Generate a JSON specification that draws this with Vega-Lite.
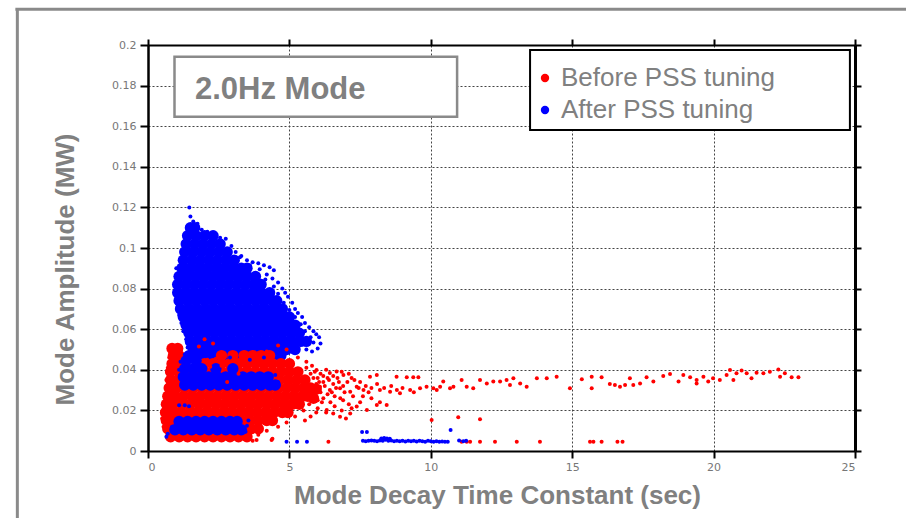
{
"$schema": "https://vega.github.io/schema/vega-lite/v6.json",
"width": 707, "height": 406,
"autosize": {"type": "none"},
"padding": {"left": 148, "top": 45, "right": 51, "bottom": 67},
"background": "white",
"config": {"view": {"stroke": null}, "font": "Liberation Sans"},
"resolve": {"axis": {"x": "independent", "y": "independent"}},
"datasets": {
"one": [{}],
"bcore": [
{"x":1.5,"y":0.110},{"x":1.65,"y":0.110},
{"x":1.4,"y":0.106},{"x":1.7,"y":0.106},{"x":2.0,"y":0.106},{"x":2.3,"y":0.106},
{"x":1.35,"y":0.102},{"x":1.65,"y":0.102},{"x":1.95,"y":0.102},{"x":2.25,"y":0.102},{"x":2.55,"y":0.102},
{"x":1.3,"y":0.098},{"x":1.6,"y":0.098},{"x":1.9,"y":0.098},{"x":2.2,"y":0.098},{"x":2.5,"y":0.098},{"x":2.8,"y":0.098},
{"x":1.25,"y":0.094},{"x":1.55,"y":0.094},{"x":1.85,"y":0.094},{"x":2.15,"y":0.094},{"x":2.45,"y":0.094},{"x":2.75,"y":0.094},{"x":3.05,"y":0.094},
{"x":1.2,"y":0.090},{"x":1.5,"y":0.090},{"x":1.8,"y":0.090},{"x":2.1,"y":0.090},{"x":2.4,"y":0.090},{"x":2.7,"y":0.090},{"x":3.0,"y":0.090},{"x":3.3,"y":0.090},{"x":3.5,"y":0.090},
{"x":1.1,"y":0.086},{"x":1.4,"y":0.086},{"x":1.7,"y":0.086},{"x":2.0,"y":0.086},{"x":2.3,"y":0.086},{"x":2.6,"y":0.086},{"x":2.9,"y":0.086},{"x":3.2,"y":0.086},{"x":3.5,"y":0.086},{"x":3.8,"y":0.086},
{"x":1.05,"y":0.082},{"x":1.35,"y":0.082},{"x":1.65,"y":0.082},{"x":1.95,"y":0.082},{"x":2.25,"y":0.082},{"x":2.55,"y":0.082},{"x":2.85,"y":0.082},{"x":3.15,"y":0.082},{"x":3.45,"y":0.082},{"x":3.75,"y":0.082},{"x":4.0,"y":0.082},
{"x":1.05,"y":0.078},{"x":1.3,"y":0.078},{"x":1.6,"y":0.078},{"x":1.9,"y":0.078},{"x":2.2,"y":0.078},{"x":2.5,"y":0.078},{"x":2.8,"y":0.078},{"x":3.1,"y":0.078},{"x":3.4,"y":0.078},{"x":3.7,"y":0.078},{"x":4.0,"y":0.078},{"x":4.3,"y":0.078},
{"x":1.1,"y":0.074},{"x":1.4,"y":0.074},{"x":1.7,"y":0.074},{"x":2.0,"y":0.074},{"x":2.3,"y":0.074},{"x":2.6,"y":0.074},{"x":2.9,"y":0.074},{"x":3.2,"y":0.074},{"x":3.5,"y":0.074},{"x":3.8,"y":0.074},{"x":4.1,"y":0.074},{"x":4.4,"y":0.074},{"x":4.55,"y":0.074},
{"x":1.15,"y":0.070},{"x":1.45,"y":0.070},{"x":1.75,"y":0.070},{"x":2.05,"y":0.070},{"x":2.35,"y":0.070},{"x":2.65,"y":0.070},{"x":2.95,"y":0.070},{"x":3.25,"y":0.070},{"x":3.55,"y":0.070},{"x":3.85,"y":0.070},{"x":4.15,"y":0.070},{"x":4.45,"y":0.070},{"x":4.75,"y":0.070},
{"x":1.25,"y":0.066},{"x":1.55,"y":0.066},{"x":1.85,"y":0.066},{"x":2.15,"y":0.066},{"x":2.45,"y":0.066},{"x":2.75,"y":0.066},{"x":3.05,"y":0.066},{"x":3.35,"y":0.066},{"x":3.65,"y":0.066},{"x":3.95,"y":0.066},{"x":4.25,"y":0.066},{"x":4.55,"y":0.066},{"x":4.85,"y":0.066},{"x":5.0,"y":0.066},
{"x":1.35,"y":0.062},{"x":1.65,"y":0.062},{"x":1.95,"y":0.062},{"x":2.25,"y":0.062},{"x":2.55,"y":0.062},{"x":2.85,"y":0.062},{"x":3.15,"y":0.062},{"x":3.45,"y":0.062},{"x":3.75,"y":0.062},{"x":4.05,"y":0.062},{"x":4.35,"y":0.062},{"x":4.65,"y":0.062},{"x":4.95,"y":0.062},{"x":5.2,"y":0.062},
{"x":1.45,"y":0.058},{"x":1.75,"y":0.058},{"x":2.05,"y":0.058},{"x":2.35,"y":0.058},{"x":2.65,"y":0.058},{"x":2.95,"y":0.058},{"x":3.25,"y":0.058},{"x":3.55,"y":0.058},{"x":3.85,"y":0.058},{"x":4.15,"y":0.058},{"x":4.45,"y":0.058},{"x":4.75,"y":0.058},{"x":5.05,"y":0.058},{"x":5.35,"y":0.058},
{"x":1.5,"y":0.054},{"x":1.8,"y":0.054},{"x":2.1,"y":0.054},{"x":2.4,"y":0.054},{"x":2.7,"y":0.054},{"x":3.0,"y":0.054},{"x":3.3,"y":0.054},{"x":3.6,"y":0.054},{"x":3.9,"y":0.054},{"x":4.2,"y":0.054},{"x":4.5,"y":0.054},{"x":4.8,"y":0.054},{"x":5.1,"y":0.054},{"x":5.4,"y":0.054},{"x":5.6,"y":0.054},
{"x":1.6,"y":0.050},{"x":1.9,"y":0.050},{"x":2.2,"y":0.050},{"x":2.5,"y":0.050},{"x":2.8,"y":0.050},{"x":3.1,"y":0.050},{"x":3.4,"y":0.050},{"x":3.7,"y":0.050},{"x":4.0,"y":0.050},{"x":4.3,"y":0.050},{"x":4.6,"y":0.050},{"x":4.9,"y":0.050},{"x":5.2,"y":0.050},
{"x":1.45,"y":0.047},{"x":1.75,"y":0.047},{"x":2.05,"y":0.047},{"x":2.35,"y":0.047},{"x":2.65,"y":0.047},{"x":2.95,"y":0.047},{"x":3.25,"y":0.047},{"x":3.55,"y":0.047},{"x":3.85,"y":0.047},{"x":4.15,"y":0.047},{"x":4.45,"y":0.047},{"x":4.7,"y":0.047}
],
"bfr": [
{"x":1.46,"y":0.120},{"x":1.5,"y":0.1155},{"x":1.6,"y":0.113},{"x":1.75,"y":0.112},{"x":1.9,"y":0.109},{"x":2.1,"y":0.108},{"x":2.35,"y":0.1075},{"x":2.55,"y":0.105},{"x":2.75,"y":0.1045},{"x":2.95,"y":0.101},{"x":3.1,"y":0.098},{"x":3.3,"y":0.096},{"x":3.5,"y":0.094},{"x":3.7,"y":0.093},{"x":3.9,"y":0.0925},{"x":4.1,"y":0.0915},{"x":4.3,"y":0.0905},{"x":4.45,"y":0.089},{"x":4.2,"y":0.087},{"x":4.4,"y":0.085},{"x":4.6,"y":0.083},{"x":4.75,"y":0.080},{"x":4.85,"y":0.078},{"x":4.95,"y":0.076},{"x":5.1,"y":0.073},{"x":5.2,"y":0.070},{"x":5.3,"y":0.068},{"x":5.45,"y":0.066},{"x":5.55,"y":0.063},{"x":5.7,"y":0.061},{"x":5.85,"y":0.059},{"x":5.95,"y":0.0575},{"x":6.05,"y":0.056},{"x":6.1,"y":0.053},{"x":6.0,"y":0.0505},{"x":5.8,"y":0.049},{"x":5.6,"y":0.050},
{"x":1.0,"y":0.090},{"x":0.98,"y":0.086},{"x":0.97,"y":0.081},{"x":1.0,"y":0.076},{"x":1.05,"y":0.072},{"x":1.1,"y":0.067},{"x":1.18,"y":0.063},{"x":1.25,"y":0.059},{"x":1.35,"y":0.055},{"x":1.4,"y":0.051},
{"x":3.25,"y":0.0955},{"x":3.6,"y":0.0915},{"x":3.95,"y":0.0895},{"x":4.15,"y":0.0845},{"x":4.45,"y":0.081},{"x":4.6,"y":0.0775},{"x":4.8,"y":0.073},{"x":5.0,"y":0.0695},{"x":5.2,"y":0.066},{"x":5.4,"y":0.0625},{"x":5.55,"y":0.059},{"x":5.75,"y":0.056},{"x":5.85,"y":0.0535}
],
"rcore": [
{"x":0.8,"y":0.007},{"x":1.1,"y":0.007},{"x":1.4,"y":0.007},{"x":1.7,"y":0.007},{"x":2.0,"y":0.007},{"x":2.3,"y":0.007},{"x":2.6,"y":0.007},{"x":2.9,"y":0.007},{"x":3.2,"y":0.007},{"x":3.5,"y":0.007},
{"x":0.7,"y":0.011},{"x":0.95,"y":0.011},{"x":1.25,"y":0.011},{"x":1.55,"y":0.011},{"x":1.85,"y":0.011},{"x":2.15,"y":0.011},{"x":2.45,"y":0.011},{"x":2.75,"y":0.011},{"x":3.05,"y":0.011},{"x":3.35,"y":0.011},{"x":3.65,"y":0.011},{"x":3.9,"y":0.011},
{"x":0.65,"y":0.015},{"x":0.9,"y":0.015},{"x":1.2,"y":0.015},{"x":1.5,"y":0.015},{"x":1.8,"y":0.015},{"x":2.1,"y":0.015},{"x":2.4,"y":0.015},{"x":2.7,"y":0.015},{"x":3.0,"y":0.015},{"x":3.3,"y":0.015},{"x":3.6,"y":0.015},{"x":3.9,"y":0.015},{"x":4.2,"y":0.015},{"x":4.4,"y":0.015},
{"x":0.62,"y":0.019},{"x":0.85,"y":0.019},{"x":1.15,"y":0.019},{"x":1.45,"y":0.019},{"x":1.75,"y":0.019},{"x":2.05,"y":0.019},{"x":2.35,"y":0.019},{"x":2.65,"y":0.019},{"x":2.95,"y":0.019},{"x":3.25,"y":0.019},{"x":3.55,"y":0.019},{"x":3.85,"y":0.019},{"x":4.15,"y":0.019},{"x":4.45,"y":0.019},{"x":4.75,"y":0.019},{"x":4.95,"y":0.019},
{"x":0.65,"y":0.023},{"x":0.9,"y":0.023},{"x":1.2,"y":0.023},{"x":1.5,"y":0.023},{"x":1.8,"y":0.023},{"x":2.1,"y":0.023},{"x":2.4,"y":0.023},{"x":2.7,"y":0.023},{"x":3.0,"y":0.023},{"x":3.3,"y":0.023},{"x":3.6,"y":0.023},{"x":3.9,"y":0.023},{"x":4.2,"y":0.023},{"x":4.5,"y":0.023},{"x":4.8,"y":0.023},{"x":5.1,"y":0.023},{"x":5.35,"y":0.023},
{"x":0.7,"y":0.027},{"x":0.95,"y":0.027},{"x":1.25,"y":0.027},{"x":1.55,"y":0.027},{"x":1.85,"y":0.027},{"x":2.15,"y":0.027},{"x":2.45,"y":0.027},{"x":2.75,"y":0.027},{"x":3.05,"y":0.027},{"x":3.35,"y":0.027},{"x":3.65,"y":0.027},{"x":3.95,"y":0.027},{"x":4.25,"y":0.027},{"x":4.55,"y":0.027},{"x":4.85,"y":0.027},{"x":5.15,"y":0.027},{"x":5.45,"y":0.027},{"x":5.65,"y":0.027},{"x":5.85,"y":0.026},
{"x":0.75,"y":0.031},{"x":1.0,"y":0.031},{"x":1.3,"y":0.031},{"x":1.6,"y":0.031},{"x":1.9,"y":0.031},{"x":2.2,"y":0.031},{"x":2.5,"y":0.031},{"x":2.8,"y":0.031},{"x":3.1,"y":0.031},{"x":3.4,"y":0.031},{"x":3.7,"y":0.031},{"x":4.0,"y":0.031},{"x":4.3,"y":0.031},{"x":4.6,"y":0.031},{"x":4.9,"y":0.031},{"x":5.2,"y":0.031},{"x":5.5,"y":0.031},{"x":5.75,"y":0.031},{"x":5.95,"y":0.0305},
{"x":0.8,"y":0.035},{"x":1.05,"y":0.035},{"x":1.35,"y":0.035},{"x":1.65,"y":0.035},{"x":1.95,"y":0.035},{"x":2.25,"y":0.035},{"x":2.55,"y":0.035},{"x":2.85,"y":0.035},{"x":3.15,"y":0.035},{"x":3.45,"y":0.035},{"x":3.75,"y":0.035},{"x":4.05,"y":0.035},{"x":4.35,"y":0.035},{"x":4.65,"y":0.035},{"x":4.95,"y":0.035},{"x":5.25,"y":0.035},{"x":5.55,"y":0.035},
{"x":0.8,"y":0.039},{"x":1.1,"y":0.039},{"x":1.4,"y":0.039},{"x":1.7,"y":0.039},{"x":2.0,"y":0.039},{"x":2.3,"y":0.039},{"x":2.6,"y":0.039},{"x":2.9,"y":0.039},{"x":3.2,"y":0.039},{"x":3.5,"y":0.039},{"x":3.8,"y":0.039},{"x":4.1,"y":0.039},{"x":4.4,"y":0.039},{"x":4.7,"y":0.039},{"x":5.0,"y":0.039},{"x":5.3,"y":0.039},
{"x":0.85,"y":0.043},{"x":1.1,"y":0.043},{"x":2.0,"y":0.043},{"x":2.3,"y":0.043},{"x":2.6,"y":0.043},{"x":2.9,"y":0.043},{"x":3.2,"y":0.043},{"x":3.5,"y":0.043},{"x":3.8,"y":0.043},{"x":4.1,"y":0.043},{"x":4.4,"y":0.043},{"x":4.7,"y":0.043},{"x":5.0,"y":0.043},
{"x":0.9,"y":0.047},{"x":1.1,"y":0.047},{"x":2.6,"y":0.047},{"x":3.0,"y":0.047},{"x":3.4,"y":0.047},{"x":3.7,"y":0.047},{"x":4.0,"y":0.047},{"x":4.3,"y":0.047},
{"x":0.85,"y":0.0505},{"x":1.05,"y":0.0505}
],
"bmid": [
{"x":1.3,"y":0.0325},{"x":1.6,"y":0.0325},{"x":1.9,"y":0.0325},{"x":2.2,"y":0.0325},{"x":2.5,"y":0.0325},{"x":2.8,"y":0.0325},{"x":3.1,"y":0.0325},{"x":3.4,"y":0.0325},{"x":3.7,"y":0.0325},{"x":4.0,"y":0.0325},{"x":4.3,"y":0.0325},{"x":4.5,"y":0.0325},
{"x":1.25,"y":0.0365},{"x":1.55,"y":0.0365},{"x":1.85,"y":0.0365},{"x":2.15,"y":0.0365},{"x":2.45,"y":0.0365},{"x":2.75,"y":0.0365},{"x":3.05,"y":0.0365},{"x":3.35,"y":0.0365},{"x":3.65,"y":0.0365},{"x":3.95,"y":0.0365},{"x":4.25,"y":0.0365},
{"x":1.3,"y":0.0405},{"x":1.6,"y":0.0405},{"x":1.9,"y":0.0405},{"x":2.4,"y":0.0405},{"x":3.0,"y":0.0405},
{"x":1.35,"y":0.0445},{"x":1.7,"y":0.0445},
{"x":0.95,"y":0.0105},{"x":1.25,"y":0.0105},{"x":1.55,"y":0.0105},{"x":1.85,"y":0.0105},{"x":2.15,"y":0.0105},{"x":2.45,"y":0.0105},{"x":2.75,"y":0.0105},{"x":3.05,"y":0.0105},{"x":3.3,"y":0.0105},
{"x":1.1,"y":0.0145},{"x":1.4,"y":0.0145},{"x":1.7,"y":0.0145},{"x":2.0,"y":0.0145},{"x":2.3,"y":0.0145},{"x":2.6,"y":0.0145},{"x":2.9,"y":0.0145},{"x":3.15,"y":0.0145}
],
"bsmall": [
{"x":1.3,"y":0.0475},{"x":1.15,"y":0.044},{"x":1.1,"y":0.040},{"x":1.15,"y":0.036},{"x":1.2,"y":0.032},{"x":1.1,"y":0.0225},{"x":1.3,"y":0.0225},{"x":1.45,"y":0.022},{"x":0.65,"y":0.007},{"x":0.7,"y":0.0085},{"x":0.85,"y":0.012},{"x":3.5,"y":0.0125},{"x":3.55,"y":0.015},{"x":3.45,"y":0.0095},{"x":4.55,"y":0.031},{"x":4.6,"y":0.034},{"x":4.5,"y":0.0375},{"x":2.9,"y":0.046},{"x":3.6,"y":0.045},{"x":4.1,"y":0.046},
{"x":7.6,"y":0.005},{"x":7.7,"y":0.0048},{"x":7.8,"y":0.005},{"x":7.9,"y":0.0052},{"x":8.0,"y":0.005},{"x":8.1,"y":0.0048},{"x":8.2,"y":0.0052},{"x":8.3,"y":0.005},{"x":8.4,"y":0.0055},{"x":8.5,"y":0.005},{"x":8.6,"y":0.0052},{"x":8.7,"y":0.0048},{"x":8.8,"y":0.005},{"x":8.9,"y":0.0048},{"x":9.0,"y":0.005},{"x":9.1,"y":0.0047},{"x":9.2,"y":0.005},{"x":9.3,"y":0.0048},{"x":9.4,"y":0.005},{"x":9.5,"y":0.0047},{"x":9.6,"y":0.005},{"x":9.7,"y":0.0048},{"x":9.8,"y":0.0046},{"x":9.9,"y":0.005},{"x":10.0,"y":0.0048},{"x":10.1,"y":0.0046},{"x":10.2,"y":0.0048},{"x":10.3,"y":0.0046},{"x":10.4,"y":0.0047},{"x":10.5,"y":0.0046},{"x":10.6,"y":0.0046},
{"x":8.25,"y":0.0062},{"x":8.35,"y":0.0064},{"x":8.45,"y":0.0062},{"x":8.55,"y":0.006},{"x":8.3,"y":0.0057},
{"x":7.57,"y":0.0094},{"x":7.74,"y":0.0094},{"x":10.7,"y":0.0103},{"x":11.0,"y":0.0052},{"x":11.15,"y":0.0048},{"x":11.25,"y":0.005},{"x":5.27,"y":0.0045},{"x":5.62,"y":0.0045},{"x":4.9,"y":0.0045}
],
"rsmall": [
{"x":2.1,"y":0.045},{"x":2.4,"y":0.0455},{"x":2.7,"y":0.044},{"x":3.0,"y":0.046},{"x":3.3,"y":0.0445},{"x":2.2,"y":0.0415},{"x":2.6,"y":0.042},{"x":3.5,"y":0.0425},{"x":2.0,"y":0.055},{"x":2.3,"y":0.053},{"x":1.8,"y":0.0515},{"x":3.9,"y":0.048},{"x":4.2,"y":0.049},{"x":4.6,"y":0.052},{"x":4.9,"y":0.050},{"x":5.3,"y":0.046},{"x":5.6,"y":0.044},{"x":5.8,"y":0.042},{"x":5.9,"y":0.039},{"x":6.0,"y":0.036},{"x":5.95,"y":0.033},{"x":6.1,"y":0.029},{"x":5.9,"y":0.026},{"x":5.7,"y":0.023},{"x":5.5,"y":0.020},{"x":5.2,"y":0.017},{"x":4.9,"y":0.014},{"x":4.6,"y":0.012},{"x":4.2,"y":0.010},{"x":3.9,"y":0.008},{"x":3.7,"y":0.005},{"x":4.4,"y":0.006},{"x":0.55,"y":0.012},{"x":0.5,"y":0.016},{"x":0.52,"y":0.020},{"x":0.6,"y":0.026},{"x":0.65,"y":0.035},{"x":0.7,"y":0.041},{"x":0.75,"y":0.046},{"x":2.8,"y":0.034},{"x":3.2,"y":0.038},
{"x":5.6,"y":0.041},{"x":5.75,"y":0.038},{"x":5.85,"y":0.036},{"x":6.1,"y":0.038},{"x":6.3,"y":0.040},{"x":6.55,"y":0.037},{"x":6.75,"y":0.034},{"x":6.85,"y":0.039},{"x":7.1,"y":0.038},{"x":7.3,"y":0.035},{"x":7.45,"y":0.031},{"x":7.6,"y":0.027},{"x":7.25,"y":0.027},{"x":6.95,"y":0.029},{"x":6.65,"y":0.031},{"x":6.35,"y":0.028},{"x":6.15,"y":0.024},{"x":5.95,"y":0.019},{"x":5.75,"y":0.017},{"x":5.55,"y":0.015},{"x":6.6,"y":0.022},{"x":6.85,"y":0.020},{"x":7.0,"y":0.016},{"x":7.5,"y":0.024},{"x":7.9,"y":0.026},{"x":8.2,"y":0.024},{"x":7.8,"y":0.029},{"x":6.2,"y":0.034},{"x":6.5,"y":0.029},{"x":5.8,"y":0.028},{"x":6.0,"y":0.025},{"x":5.65,"y":0.033},{"x":5.85,"y":0.030},{"x":6.35,"y":0.036},{"x":6.8,"y":0.026},{"x":7.2,"y":0.021},
{"x":5.96,"y":0.0399},{"x":6.2,"y":0.0369},{"x":6.43,"y":0.0384},{"x":6.67,"y":0.0392},{"x":6.91,"y":0.0374},{"x":6.08,"y":0.0317},{"x":6.43,"y":0.030},{"x":6.79,"y":0.0309},{"x":7.15,"y":0.0292},{"x":7.38,"y":0.0317},{"x":7.62,"y":0.030},{"x":7.85,"y":0.0366},{"x":8.09,"y":0.0374},{"x":8.2,"y":0.030},{"x":8.56,"y":0.0292},{"x":8.79,"y":0.0366},{"x":9.15,"y":0.0363},{"x":9.38,"y":0.0363},{"x":9.56,"y":0.0363},{"x":8.91,"y":0.0284},{"x":9.27,"y":0.030},{"x":9.62,"y":0.0309},{"x":9.85,"y":0.0317},{"x":10.09,"y":0.0309},{"x":10.33,"y":0.0317},{"x":10.21,"y":0.030},{"x":10.44,"y":0.0342},{"x":10.68,"y":0.0309},{"x":10.8,"y":0.0317},{"x":11.09,"y":0.035},{"x":11.27,"y":0.0317},{"x":11.5,"y":0.0309},{"x":11.74,"y":0.035},{"x":11.98,"y":0.0333},{"x":12.21,"y":0.0342},{"x":12.45,"y":0.0342},{"x":12.68,"y":0.035},{"x":12.8,"y":0.0325},{"x":12.92,"y":0.0358},{"x":13.16,"y":0.0333},{"x":13.39,"y":0.0317},{"x":13.75,"y":0.0358},{"x":14.1,"y":0.0358},{"x":14.45,"y":0.0366},
{"x":7.38,"y":0.0219},{"x":7.15,"y":0.0185},{"x":7.74,"y":0.0202},{"x":8.09,"y":0.0227},{"x":8.44,"y":0.0227},{"x":6.79,"y":0.0169},{"x":6.55,"y":0.0185},{"x":6.32,"y":0.0202},{"x":10.03,"y":0.0153},{"x":10.97,"y":0.0166},{"x":11.74,"y":0.0156},
{"x":5.9,"y":0.031},{"x":6.05,"y":0.034},{"x":6.25,"y":0.032},{"x":6.4,"y":0.035},{"x":6.55,"y":0.033},{"x":6.7,"y":0.036},{"x":6.9,"y":0.032},{"x":7.05,"y":0.034},{"x":7.2,"y":0.036},{"x":7.5,"y":0.034},{"x":7.7,"y":0.032},{"x":7.9,"y":0.031},{"x":8.1,"y":0.033},{"x":8.35,"y":0.031},{"x":8.6,"y":0.032},{"x":8.8,"y":0.030},{"x":9.0,"y":0.031},{"x":9.4,"y":0.029},{"x":6.2,"y":0.026},{"x":6.45,"y":0.024},{"x":6.6,"y":0.027},{"x":6.9,"y":0.025},{"x":7.1,"y":0.023},{"x":6.0,"y":0.021},{"x":6.3,"y":0.019},
{"x":6.38,"y":0.0046},{"x":11.09,"y":0.0046},{"x":11.27,"y":0.0046},{"x":11.39,"y":0.0046},{"x":11.74,"y":0.0046},{"x":12.27,"y":0.0046},{"x":13.04,"y":0.0046},{"x":13.86,"y":0.0046},{"x":3.84,"y":0.0054},{"x":4.37,"y":0.0054},
{"x":14.92,"y":0.0309},{"x":15.34,"y":0.0353},{"x":15.69,"y":0.0366},{"x":15.69,"y":0.0309},{"x":16.04,"y":0.0363},{"x":16.33,"y":0.033},{"x":16.51,"y":0.0325},{"x":16.69,"y":0.0317},{"x":16.87,"y":0.0325},{"x":17.04,"y":0.0358},{"x":17.16,"y":0.0325},{"x":17.4,"y":0.0333},{"x":17.63,"y":0.0363},{"x":17.87,"y":0.0342},{"x":18.22,"y":0.0369},{"x":18.46,"y":0.0379},{"x":18.76,"y":0.0342},{"x":18.93,"y":0.0374},{"x":19.17,"y":0.0363},{"x":19.4,"y":0.035},{"x":19.4,"y":0.0333},{"x":19.64,"y":0.0366},{"x":19.81,"y":0.0342},{"x":19.98,"y":0.0358},{"x":20.22,"y":0.035},{"x":20.46,"y":0.0374},{"x":20.58,"y":0.0399},{"x":20.7,"y":0.035},{"x":20.81,"y":0.0383},{"x":20.99,"y":0.0396},{"x":21.17,"y":0.0383},{"x":21.34,"y":0.0358},{"x":21.52,"y":0.0386},{"x":21.76,"y":0.0383},{"x":21.99,"y":0.0391},{"x":22.29,"y":0.0402},{"x":22.35,"y":0.0366},{"x":22.52,"y":0.0383},{"x":22.76,"y":0.0363},{"x":23.0,"y":0.0363},
{"x":15.63,"y":0.0046},{"x":15.75,"y":0.0046},{"x":16.04,"y":0.0046},{"x":16.6,"y":0.0046},{"x":16.78,"y":0.0046}
]
},
"layer": [
{"data": {"name": "one"},
 "mark": {"type": "rule", "color": "#8a8a8a", "strokeWidth": 3},
 "encoding": {"x": {"datum": -4.62, "type": "quantitative", "axis": null, "scale": {"domain": [0, 25], "nice": false}},
  "y": {"datum": 0.2176, "type": "quantitative", "axis": null, "scale": {"domain": [0, 0.2], "nice": false}},
  "y2": {"datum": -0.06}}},
{"data": {"name": "one"},
 "mark": {"type": "rule", "color": "#8a8a8a", "strokeWidth": 3},
 "encoding": {"x": {"datum": -4.69, "type": "quantitative", "axis": null, "scale": {"domain": [0, 25], "nice": false}},
  "x2": {"datum": 28},
  "y": {"datum": 0.2176, "type": "quantitative", "axis": null, "scale": {"domain": [0, 0.2], "nice": false}}}},
{"data": {"name": "bcore"},
 "mark": {"type": "circle", "size": 130, "opacity": 1},
 "encoding": {
  "x": {"field": "x", "type": "quantitative", "scale": {"domain": [0, 25], "nice": false},
   "axis": {"orient": "bottom", "values": [0, 5, 10, 15, 20, 25], "grid": true, "gridColor": "#444", "gridDash": [2, 2], "gridWidth": 1,
    "domainColor": "black", "domainWidth": 2, "tickColor": "black", "tickWidth": 2, "tickSize": 7,
    "labelFont": "DejaVu Sans", "labelFontSize": 11, "labelColor": "#777", "labelPadding": 3,
    "title": "Mode Decay Time Constant (sec)", "titleFont": "Liberation Sans", "titleFontSize": 26, "titleFontWeight": "bold", "titleColor": "#808080",
    "titleX": 349, "titleY": 52, "titleBaseline": "alphabetic", "titleAlign": "center"}},
  "y": {"field": "y", "type": "quantitative", "scale": {"domain": [0, 0.2], "nice": false},
   "axis": {"orient": "left", "values": [0, 0.02, 0.04, 0.06, 0.08, 0.1, 0.12, 0.14, 0.16, 0.18, 0.2], "format": "~g", "grid": true, "gridColor": "#444", "gridDash": [2, 2], "gridWidth": 1,
    "domainColor": "black", "domainWidth": 2.5, "tickColor": "black", "tickWidth": 2, "tickSize": 8,
    "labelFont": "DejaVu Sans", "labelFontSize": 11, "labelColor": "#777", "labelPadding": 4,
    "title": "Mode Amplitude (MW)", "titleFont": "Liberation Sans", "titleFontSize": 26, "titleFontWeight": "bold", "titleColor": "#808080",
    "titleX": -75, "titleY": 224, "titleAngle": 270, "titleBaseline": "alphabetic", "titleAlign": "center"}},
  "color": {"datum": "After PSS tuning", "type": "nominal",
   "scale": {"domain": ["Before PSS tuning", "After PSS tuning"], "range": ["#ff0000", "#0000ff"]},
   "legend": {"orient": "none", "legendX": 384, "legendY": 20, "title": null, "padding": 0, "strokeColor": null,
    "labelFont": "Liberation Sans", "labelFontSize": 26, "labelColor": "#808080", "labelOffset": 3, "labelLimit": 400,
    "symbolType": "circle", "symbolSize": 70, "symbolStrokeWidth": 0, "rowPadding": 6}}}},
{"data": {"name": "bfr"},
 "mark": {"type": "circle", "size": 16, "opacity": 1},
 "encoding": {
  "x": {"field": "x", "type": "quantitative", "scale": {"domain": [0, 25], "nice": false},
   "axis": {"orient": "top", "values": [0, 5, 10, 15, 20, 25], "grid": false, "labels": false, "title": null,
    "domainColor": "black", "domainWidth": 2, "tickColor": "black", "tickWidth": 2, "tickSize": 6}},
  "y": {"field": "y", "type": "quantitative", "scale": {"domain": [0, 0.2], "nice": false},
   "axis": {"orient": "right", "values": [0, 0.02, 0.04, 0.06, 0.08, 0.1, 0.12, 0.14, 0.16, 0.18, 0.2], "grid": false, "labels": false, "title": null,
    "domainColor": "black", "domainWidth": 3, "tickColor": "black", "tickWidth": 2, "tickSize": 6}},
  "color": {"datum": "After PSS tuning", "type": "nominal"}}},
{"data": {"name": "rcore"},
 "mark": {"type": "circle", "size": 130, "opacity": 1},
 "encoding": {
  "x": {"field": "x", "type": "quantitative", "axis": null, "scale": {"domain": [0, 25], "nice": false}},
  "y": {"field": "y", "type": "quantitative", "axis": null, "scale": {"domain": [0, 0.2], "nice": false}},
  "color": {"datum": "Before PSS tuning", "type": "nominal"}}},
{"data": {"name": "bmid"},
 "mark": {"type": "circle", "size": 130, "opacity": 1},
 "encoding": {
  "x": {"field": "x", "type": "quantitative", "axis": null, "scale": {"domain": [0, 25], "nice": false}},
  "y": {"field": "y", "type": "quantitative", "axis": null, "scale": {"domain": [0, 0.2], "nice": false}},
  "color": {"datum": "After PSS tuning", "type": "nominal"}}},
{"data": {"name": "rsmall"},
 "mark": {"type": "circle", "size": 16, "opacity": 1},
 "encoding": {
  "x": {"field": "x", "type": "quantitative", "axis": null, "scale": {"domain": [0, 25], "nice": false}},
  "y": {"field": "y", "type": "quantitative", "axis": null, "scale": {"domain": [0, 0.2], "nice": false}},
  "color": {"datum": "Before PSS tuning", "type": "nominal"}}},
{"data": {"name": "bsmall"},
 "mark": {"type": "circle", "size": 16, "opacity": 1},
 "encoding": {
  "x": {"field": "x", "type": "quantitative", "axis": null, "scale": {"domain": [0, 25], "nice": false}},
  "y": {"field": "y", "type": "quantitative", "axis": null, "scale": {"domain": [0, 0.2], "nice": false}},
  "color": {"datum": "After PSS tuning", "type": "nominal"}}},
{"data": {"name": "one"},
 "mark": {"type": "rect", "fill": "white", "stroke": "#8a8a8a", "strokeWidth": 2.5},
 "encoding": {"x": {"datum": 0.937, "type": "quantitative", "axis": null, "scale": {"domain": [0, 25], "nice": false}},
  "x2": {"datum": 10.93},
  "y": {"datum": 0.1942, "type": "quantitative", "axis": null, "scale": {"domain": [0, 0.2], "nice": false}},
  "y2": {"datum": 0.1647}}},
{"data": {"name": "one"},
 "mark": {"type": "text", "text": "2.0Hz Mode", "align": "left", "baseline": "alphabetic", "font": "Liberation Sans", "fontSize": 31, "fontWeight": "bold", "color": "#808080"},
 "encoding": {"x": {"datum": 1.662, "type": "quantitative", "axis": null, "scale": {"domain": [0, 25], "nice": false}},
  "y": {"datum": 0.1734, "type": "quantitative", "axis": null, "scale": {"domain": [0, 0.2], "nice": false}}}},
{"data": {"name": "one"},
 "mark": {"type": "rect", "fill": "white", "stroke": "black", "strokeWidth": 2},
 "encoding": {"x": {"datum": 13.51, "type": "quantitative", "axis": null, "scale": {"domain": [0, 25], "nice": false}},
  "x2": {"datum": 24.82},
  "y": {"datum": 0.1975, "type": "quantitative", "axis": null, "scale": {"domain": [0, 0.2], "nice": false}},
  "y2": {"datum": 0.1581}}}
]
}
